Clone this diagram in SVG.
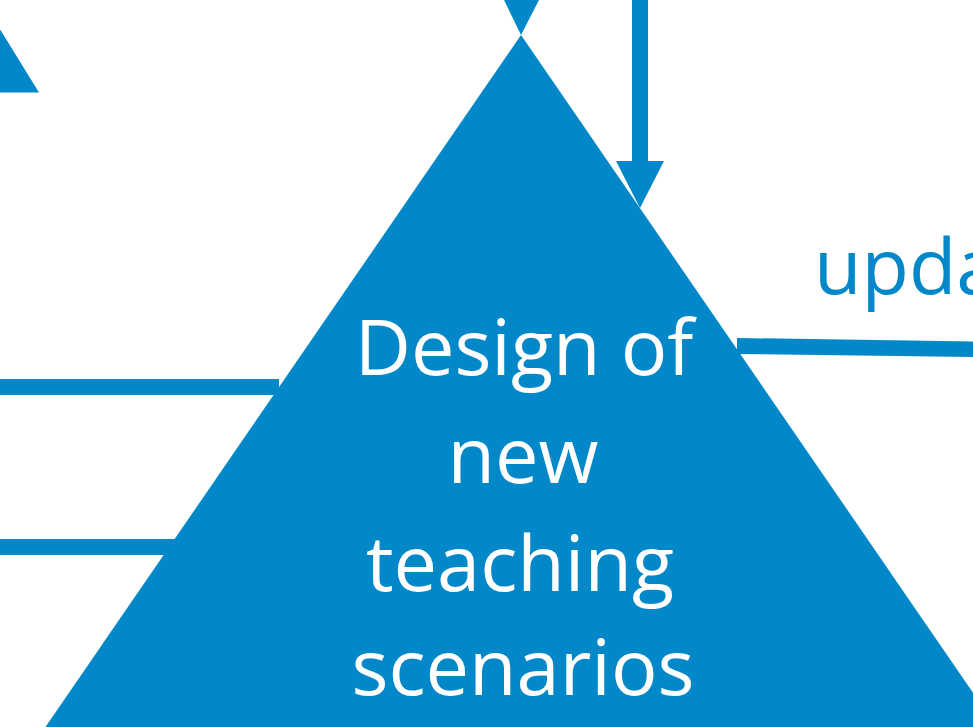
<svg xmlns="http://www.w3.org/2000/svg" width="973" height="727" viewBox="0 0 973 727">
  <style>
    .shape { fill: #0288c8; }
    .label { font-family: "Open Sans", "Noto Sans", sans-serif; font-size: 77.5px; }
    .inner { fill: #ffffff; text-anchor: middle; }
    .outer { fill: #0288c8; }
  </style>
  <rect width="973" height="727" fill="#ffffff"/>

  <!-- connectors -->
  <g id="connectors">
    <!-- left bars -->
    <rect class="shape" x="0" y="379" width="279" height="16"/>
    <rect class="shape" x="0" y="539" width="180" height="16"/>
    <!-- right bar -->
    <polygon class="shape" points="737,338 973,341.5 973,357 737,354"/>
    <!-- downward arrow -->
    <polygon class="shape" points="632,0 648,0 648,161 664,161 640,208 616,161 632,161"/>
    <!-- arrowhead at apex -->
    <polygon class="shape" points="504,0 539,0 521,35"/>
  </g>

  <!-- neighbouring triangle, top left -->
  <g id="node-top-left">
    <polygon class="shape" points="-18,0 39,92.5 -80,92.5"/>
  </g>

  <!-- main triangle -->
  <g id="node-design">
    <polygon class="shape" points="521,35 1000,732 42,732"/>
    <text class="label inner" x="524" y="375">Design of</text>
    <text class="label inner" x="523" y="483">new</text>
    <text class="label inner" x="520" y="591">teaching</text>
    <text class="label inner" x="523" y="695">scenarios</text>
  </g>

  <!-- edge label -->
  <text class="label outer" x="814" y="294">upda</text>
</svg>
